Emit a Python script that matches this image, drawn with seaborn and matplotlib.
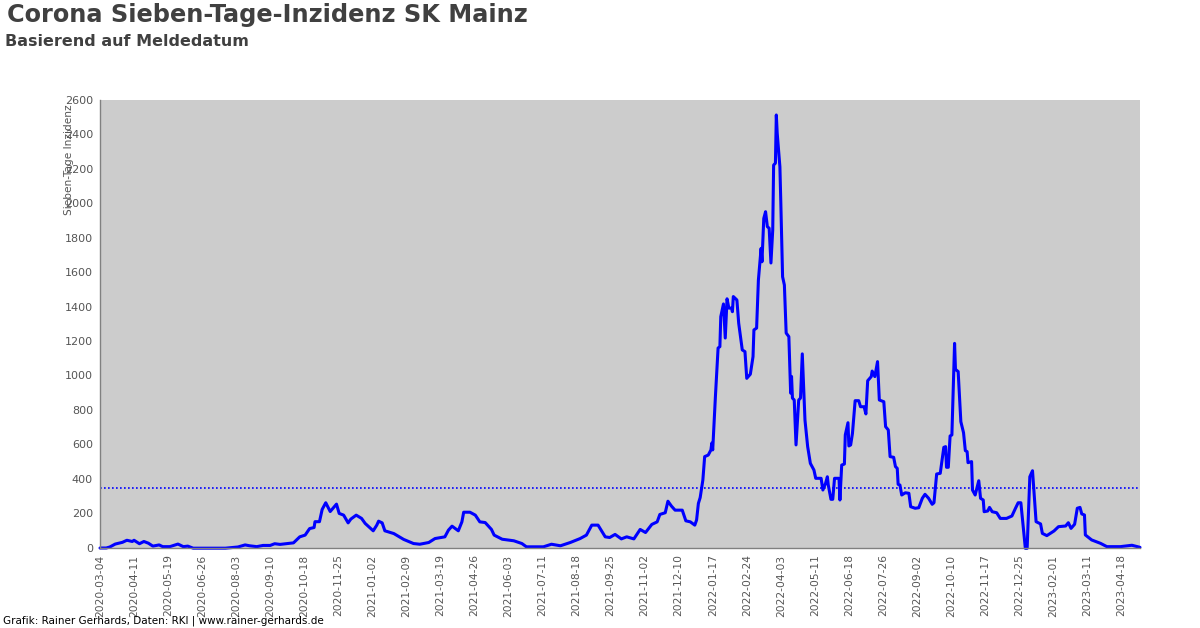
import pandas as pd
import matplotlib.pyplot as plt
import seaborn as sns

# DATA, days counted from the first date
start_date = "2020-03-04"

days_2020 = [0, 7, 11, 17, 25, 30, 36, 38, 44, 49, 54, 59, 66, 70, 78, 87, 93, 98, 104, 140, 154, 162, 167, 175, 182,
             190, 195, 201, 216, 223, 229, 234, 239, 240, 245, 248, 252, 257, 264, 267, 272, 277, 280, 286, 292, 296]
vals_2020 = [-3, -3, 3, 20, 30, 42, 35, 42, 22, 35, 25, 8, 15, 5, 5, 20, 5, 8, -4, -4, 3, 15, 10, 5, 12,
             12, 22, 18, 27, 62, 72, 110, 116, 150, 150, 221, 260, 209, 252, 198, 188, 143, 165, 188, 169, 140]

days_2021 = [305, 309, 311, 315, 318, 328, 339, 350, 357, 367, 374, 385, 389, 393, 400, 404, 406, 413, 419, 424, 430,
             437, 440, 449, 462, 471, 476, 495, 504, 514, 525, 536, 543, 549, 556, 564, 569, 575, 582, 588, 596, 603,
             609, 616, 622, 625, 631, 634, 638, 642, 650, 654, 659, 664, 666, 668, 670]
vals_2021 = [97, 130, 153, 143, 97, 81, 47, 23, 19, 29, 52, 62, 101, 124, 97, 149, 205, 205, 188, 149, 145,
             105, 72, 48, 39, 23, 4, 4, 19, 10, 29, 52, 72, 130, 130, 62, 58, 76, 50, 62, 50, 105,
             87, 134, 149, 192, 202, 269, 240, 217, 217, 155, 149, 130, 160, 256, 290]

days_2022a = [673, 675, 679, 682, 683, 684, 687, 690, 692, 693, 696, 698, 700, 702, 705, 706, 707, 711, 713, 717, 720,
              722, 726, 729, 730, 733, 735, 738, 739, 741, 743, 745, 747, 749, 751, 752, 754, 755, 756, 759, 760, 762,
              764, 766, 769, 771, 772, 773, 775, 777, 780, 782, 784, 787, 790]
vals_2022a = [392, 528, 537, 567, 607, 567, 876, 1159, 1167, 1341, 1415, 1217, 1445, 1391, 1391, 1370, 1458, 1438,
              1303, 1148, 1138, 983, 1007, 1109, 1264, 1275, 1554, 1738, 1660, 1912, 1951, 1864, 1855, 1653, 1845,
              2222, 2233, 2513, 2407, 2212, 2009, 1573, 1525, 1246, 1225, 897, 994, 868, 857, 596, 857, 868, 1125,
              740, 586]

days_2022b = [793, 797, 799, 805, 807, 810, 812, 813, 816, 818, 820, 825, 826, 828, 831, 832, 835, 836, 838, 840, 843,
              847, 849, 853, 855, 857, 861, 862, 865, 868, 870, 875, 877, 880, 882, 886, 888, 890, 891]
vals_2022b = [489, 450, 402, 402, 334, 373, 411, 363, 280, 280, 402, 402, 276, 479, 485, 654, 725, 590, 596, 663, 853,
              853, 818, 818, 776, 969, 993, 1025, 993, 1080, 857, 847, 702, 683, 528, 524, 470, 460, 367]

days_2023 = [893, 895, 899, 903, 905, 910, 914, 918, 921, 925, 929, 931, 934, 938, 942, 944, 945, 947, 949, 951, 954,
             955, 958, 961, 964, 966, 968, 969, 973, 974, 977, 981, 983, 986, 987, 991, 993, 996, 1001, 1005, 1012,
             1018, 1022, 1025, 1028, 1031, 1033, 1035, 1038, 1041, 1043, 1045, 1050, 1052, 1057, 1065, 1070, 1078,
             1081, 1084, 1088, 1091, 1094, 1096, 1099, 1100, 1107, 1117, 1124, 1139, 1152, 1161]
vals_2023 = [363, 305, 318, 315, 237, 228, 231, 286, 309, 286, 251, 260, 427, 431, 582, 586, 466, 466, 648, 654, 1186,
             1035, 1022, 731, 667, 563, 557, 493, 499, 334, 305, 388, 286, 276, 208, 212, 233, 208, 202, 169, 169,
             183, 228, 260, 260, 102, -5, -5, 411, 446, 295, 150, 137, 82, 69, 96, 121, 125,
             144, 111, 135, 228, 233, 195, 189, 73, 44, 24, 5, 5, 13, 1]

threshold = 348

tick_labels = ["2020-03-04", "2020-04-11", "2020-05-19", "2020-06-26", "2020-08-03", "2020-09-10", "2020-10-18",
               "2020-11-25", "2021-01-02", "2021-02-09", "2021-03-19", "2021-04-26", "2021-06-03", "2021-07-11",
               "2021-08-18", "2021-09-25", "2021-11-02", "2021-12-10", "2022-01-17", "2022-02-24", "2022-04-03",
               "2022-05-11", "2022-06-18", "2022-07-26", "2022-09-02", "2022-10-10", "2022-11-17", "2022-12-25",
               "2023-02-01", "2023-03-11", "2023-04-18"]
y_ticks = list(range(0, 2601, 200))

# BUILD TABLE
data = pd.DataFrame({
    "day": days_2020 + days_2021 + days_2022a + days_2022b + days_2023,
    "value": vals_2020 + vals_2021 + vals_2022a + vals_2022b + vals_2023,
})
data["date"] = pd.Timestamp(start_date) + pd.to_timedelta(data["day"], unit="D")

sns.set_theme(style="white")
plt.rcParams["font.family"] = ["DejaVu Sans"]
grey = "#555555"

fig, ax = plt.subplots(figsize=(12, 6.28), dpi=100)
fig.subplots_adjust(left=100 / 1200, right=1140 / 1200, top=1 - 100 / 628, bottom=1 - 547.5 / 628)
ax.set_facecolor("#cccccc")

sns.lineplot(data=data, x="date", y="value", color="#0000ff", linewidth=2.2, estimator=None, ax=ax, clip_on=False)
ax.axhline(threshold, color="#0000ff", linewidth=1.2, linestyle=(0, (1, 1.4)))

ax.set_xlim(pd.Timestamp(start_date), data["date"].max())
ax.set_ylim(0, 2600)
ax.set_xticks(pd.to_datetime(tick_labels))
ax.set_xticklabels(tick_labels, rotation=90, fontsize=7.7, color=grey)
ax.set_yticks(y_ticks)
ax.set_yticklabels([str(v) for v in y_ticks], fontsize=8, color=grey)
ax.tick_params(axis="both", length=0, pad=5)
ax.set_xlabel("")
ax.set_ylabel("")

for side in ["top", "right"]:
    ax.spines[side].set_visible(False)
for side in ["left", "bottom"]:
    ax.spines[side].set_color("#808080")
    ax.spines[side].set_linewidth(1)

fig.text(69 / 1200, 1 - 160 / 628, "Sieben-Tage Inzidenz", rotation=90, ha="center", va="center",
         fontsize=7.55, color=grey)
fig.text(7 / 1200, 1 - 15 / 628, "Corona Sieben-Tage-Inzidenz SK Mainz", fontsize=17.27, fontweight="bold",
         color="#404040", va="center")
fig.text(5 / 1200, 1 - 41.5 / 628, "Basierend auf Meldedatum", fontsize=11.55, fontweight="bold",
         color="#404040", va="center")
fig.text(3 / 1200, 1 - 621 / 628, "Grafik: Rainer Gerhards, Daten: RKI | www.rainer-gerhards.de", fontsize=7.47,
         color="black", va="center")

fig.savefig("out.png", dpi=100)
